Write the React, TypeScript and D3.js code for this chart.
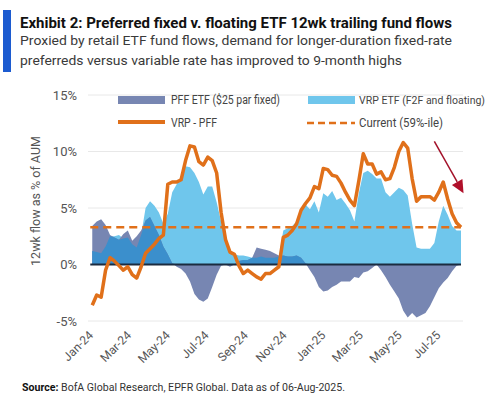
import React from 'react';
import * as d3 from 'd3';

// weekly 12wk trailing flows, % of AUM (first week 03-Jan-2024, last 06-Aug-2025)
const pffValues = [
  3.4, 3.8, 4.0, 3.5, 2.6, 2.4, 2.2, 2.7, 3.0, 2.1,
  2.5, 3.0, 3.9, 4.2, 3.4, 2.6, 1.6, 0.9, 0.1, -0.2,
  -0.4, -0.8, -1.5, -2.6, -3.1, -3.3, -3.0, -2.0, -0.9, -0.1,
  0.0, -0.2, 0.0, 0.3, 0.4, 0.4, 0.6, 1.5, 1.4, 1.3,
  1.2, 1.0, 0.8, 0.8, 0.7, 0.7, 0.8, 0.6, 0.1, -0.5,
  -1.1, -2.0, -2.4, -2.3, -2.0, -1.8, -1.5, -1.5, -1.5, -1.1,
  -1.2, -0.7, -0.6, -0.3, 0.0, -0.5, -1.1, -1.8, -2.4, -3.0,
  -4.1, -4.7, -4.3, -4.7, -4.5, -4.3, -3.7, -2.9, -2.1, -1.6,
  -1.2, -0.6, -0.1, 0.0,
];

const vrpValues = [
  1.2, 1.1, 1.0, 1.6, 2.5, 2.5, 2.6, 2.3, 2.4, 1.8,
  1.5, 2.6, 5.0, 5.6, 5.2, 4.6, 3.6, 4.5, 6.4, 7.1,
  7.8, 8.7, 8.6, 8.1, 7.3, 6.2, 6.9, 6.9, 5.5, 3.8,
  2.0, 1.0, 0.9, 0.8, 0.8, 0.7, 0.6, 0.6, 0.7, 0.6,
  0.6, 0.6, 0.7, 3.0, 3.2, 3.4, 3.8, 4.6, 5.3, 4.9,
  5.6, 4.6, 6.3, 6.0, 6.5, 5.7, 5.9, 5.4, 4.8, 3.8,
  6.3, 8.1, 8.3, 8.0, 7.6, 7.6, 6.4, 6.0, 6.4, 6.8,
  6.6, 6.1, 3.6, 1.5, 1.4, 1.4, 1.4, 1.9, 3.8, 5.2,
  4.4, 3.4, 3.0, 3.0,
];

const spreadValues = [
  -3.6, -2.7, -2.9, -0.5, 0.6, 0.3, -0.1, -0.5, -0.2, -0.9,
  -1.2, -0.2, 1.0, 1.4, 1.8, 2.3, 2.6, 7.1, 7.3, 7.3,
  7.5, 9.2, 10.5, 10.4, 9.1, 8.8, 9.5, 9.2, 8.1, 4.6,
  2.2, 1.1, 0.9, -0.1, -0.8, -0.5, -0.8, -1.1, -1.3, -0.8,
  -0.8, -0.5, -0.2, 2.4, 2.6, 3.0, 3.6, 4.8, 5.4, 5.9,
  6.9, 6.7, 8.5, 8.4, 7.9, 7.8, 7.2, 6.4, 5.7, 5.2,
  7.4, 9.8, 8.9, 8.9, 8.0, 8.2, 7.5, 7.6, 8.6, 10.0,
  10.8, 10.3, 7.6, 5.6, 6.0, 6.0, 6.0, 5.7, 6.4, 7.3,
  5.8, 4.5, 3.7, 3.3,
];

const currentLevel = 3.3;
const yTicks = [-5, 0, 5, 10, 15];
const monthLabels = ['Jan-24', 'Mar-24', 'May-24', 'Jul-24', 'Sep-24', 'Nov-24', 'Jan-25', 'Mar-25', 'May-25', 'Jul-25'];

const PFF_COLOR = '#7786b2';
const VRP_COLOR = '#6fc6ec';
const BOTH_COLOR = '#3b8fcc';
const ORANGE = '#e0701a';
const FONT = 'Roboto, "Liberation Sans", sans-serif';

const App: React.FC = () => {
  const width = 499;
  const height = 396;

  const dates = pffValues.map((_, i) => d3.timeDay.offset(new Date(2024, 0, 3), 7 * i));

  const x = d3.scaleTime()
    .domain([new Date(2024, 0, 1), new Date(2025, 7, 6)])
    .range([91, 461]);
  const y = d3.scaleLinear().domain([-5, 15]).range([321, 95]);

  const areaOf = (vals: number[]) =>
    d3.area<number>()
      .x((_, i) => x(dates[i]))
      .y0(y(0))
      .y1(d => y(d))(vals) || '';

  // part where both funds are positive shows the darker overlap colour
  const overlap = pffValues.map((p, i) => (p > 0 && vrpValues[i] > 0 ? Math.min(p, vrpValues[i]) : 0));

  const spreadLine = d3.line<number>()
    .x((_, i) => x(dates[i]))
    .y(d => y(d))
    .curve(d3.curveLinear)(spreadValues) || '';

  const monthDates = monthLabels.map((_, i) => d3.timeMonth.offset(new Date(2024, 0, 1), 2 * i));

  // annotation arrow
  const a0 = [x(new Date(2025, 5, 25)), y(10.9)];
  const a1 = [x(new Date(2025, 7, 10)), y(6.3)];
  const dx = a1[0] - a0[0];
  const dy = a1[1] - a0[1];
  const len = Math.sqrt(dx * dx + dy * dy);
  const ux = dx / len;
  const uy = dy / len;
  const hb = [a1[0] - 13 * ux, a1[1] - 13 * uy];
  const head = `${a1[0]},${a1[1]} ${hb[0] + 6 * uy},${hb[1] - 6 * ux} ${hb[0] - 6 * uy},${hb[1] + 6 * ux}`;

  return (
    <svg width={width} height={height} style={{ position: 'absolute', left: 0, top: 0, background: '#fff' }} fontFamily={FONT}>
      <rect x={3} y={10} width={8} height={62} fill="#1c5bd0" />
      <text x={20} y={28} fontSize={15} fontWeight="bold" fill="#111" textLength={432} lengthAdjust="spacingAndGlyphs">
        Exhibit 2: Preferred fixed v. floating ETF 12wk trailing fund flows
      </text>
      <text x={20} y={45} fontSize={13.5} fill="#3a3a3a" textLength={432} lengthAdjust="spacingAndGlyphs">
        Proxied by retail ETF fund flows, demand for longer-duration fixed-rate
      </text>
      <text x={20} y={65} fontSize={13.5} fill="#3a3a3a" textLength={382} lengthAdjust="spacingAndGlyphs">
        preferreds versus variable rate has improved to 9-month highs
      </text>

      {/* grid */}
      {yTicks.filter(t => t !== 0).map(t => (
        <line key={t} x1={88} x2={463} y1={y(t)} y2={y(t)} stroke="#e8e8e8" strokeWidth={1} />
      ))}
      {yTicks.map(t => (
        <text key={t} x={77} y={y(t)} dy="0.35em" textAnchor="end" fontSize={13} fill="#555">
          {`${t}%`}
        </text>
      ))}
      <text transform="translate(40,201) rotate(-90)" textAnchor="middle" fontSize={12.5} fill="#555">
        12wk flow as % of AUM
      </text>

      {/* areas */}
      <path d={areaOf(vrpValues)} fill={VRP_COLOR} />
      <path d={areaOf(pffValues)} fill={PFF_COLOR} />
      <path d={areaOf(overlap)} fill={BOTH_COLOR} />

      <line x1={x(dates[0]) - 2} x2={x(dates[dates.length - 1])} y1={y(0)} y2={y(0)} stroke="#1b2b3f" strokeWidth={1.8} />
      <line x1={x(dates[0]) - 2} x2={x(dates[dates.length - 1])} y1={y(currentLevel)} y2={y(currentLevel)}
        stroke={ORANGE} strokeWidth={2.5} strokeDasharray="8,5" />
      <path d={spreadLine} fill="none" stroke={ORANGE} strokeWidth={3.5} strokeLinejoin="round" />

      {/* x axis labels */}
      {monthDates.map((d, i) => (
        <text key={monthLabels[i]} transform={`translate(${x(d) + 3},336) rotate(-45)`} textAnchor="end" fontSize={12} fill="#555">
          {monthLabels[i]}
        </text>
      ))}

      {/* legend */}
      <rect x={118} y={96} width={47} height={8} fill={PFF_COLOR} />
      <text x={171} y={104} fontSize={12} fill="#444" textLength={109} lengthAdjust="spacingAndGlyphs">PFF ETF ($25 par fixed)</text>
      <rect x={308} y={96} width={47} height={8} fill={VRP_COLOR} />
      <text x={359} y={104} fontSize={11} fill="#444" textLength={126} lengthAdjust="spacingAndGlyphs">VRP ETF (F2F and floating)</text>
      <line x1={118} x2={165} y1={122} y2={122} stroke={ORANGE} strokeWidth={4} />
      <text x={171} y={127} fontSize={12} fill="#444" textLength={46} lengthAdjust="spacingAndGlyphs">VRP - PFF</text>
      <line x1={307} x2={355} y1={123} y2={123} stroke={ORANGE} strokeWidth={2.5} strokeDasharray="7,4" />
      <text x={359} y={127} fontSize={12} fill="#444" textLength={84} lengthAdjust="spacingAndGlyphs">Current (59%-ile)</text>

      {/* arrow */}
      <line x1={a0[0]} y1={a0[1]} x2={hb[0]} y2={hb[1]} stroke="#a3122a" strokeWidth={1.5} />
      <polygon points={head} fill="#b0102a" />

      <text x={22} y={391} fontSize={11.5} fill="#333" textLength={323} lengthAdjust="spacingAndGlyphs">
        <tspan fontWeight="bold" fill="#111">Source:</tspan>
        <tspan> BofA Global Research, EPFR Global. Data as of 06-Aug-2025.</tspan>
      </text>
    </svg>
  );
};

export default App;
